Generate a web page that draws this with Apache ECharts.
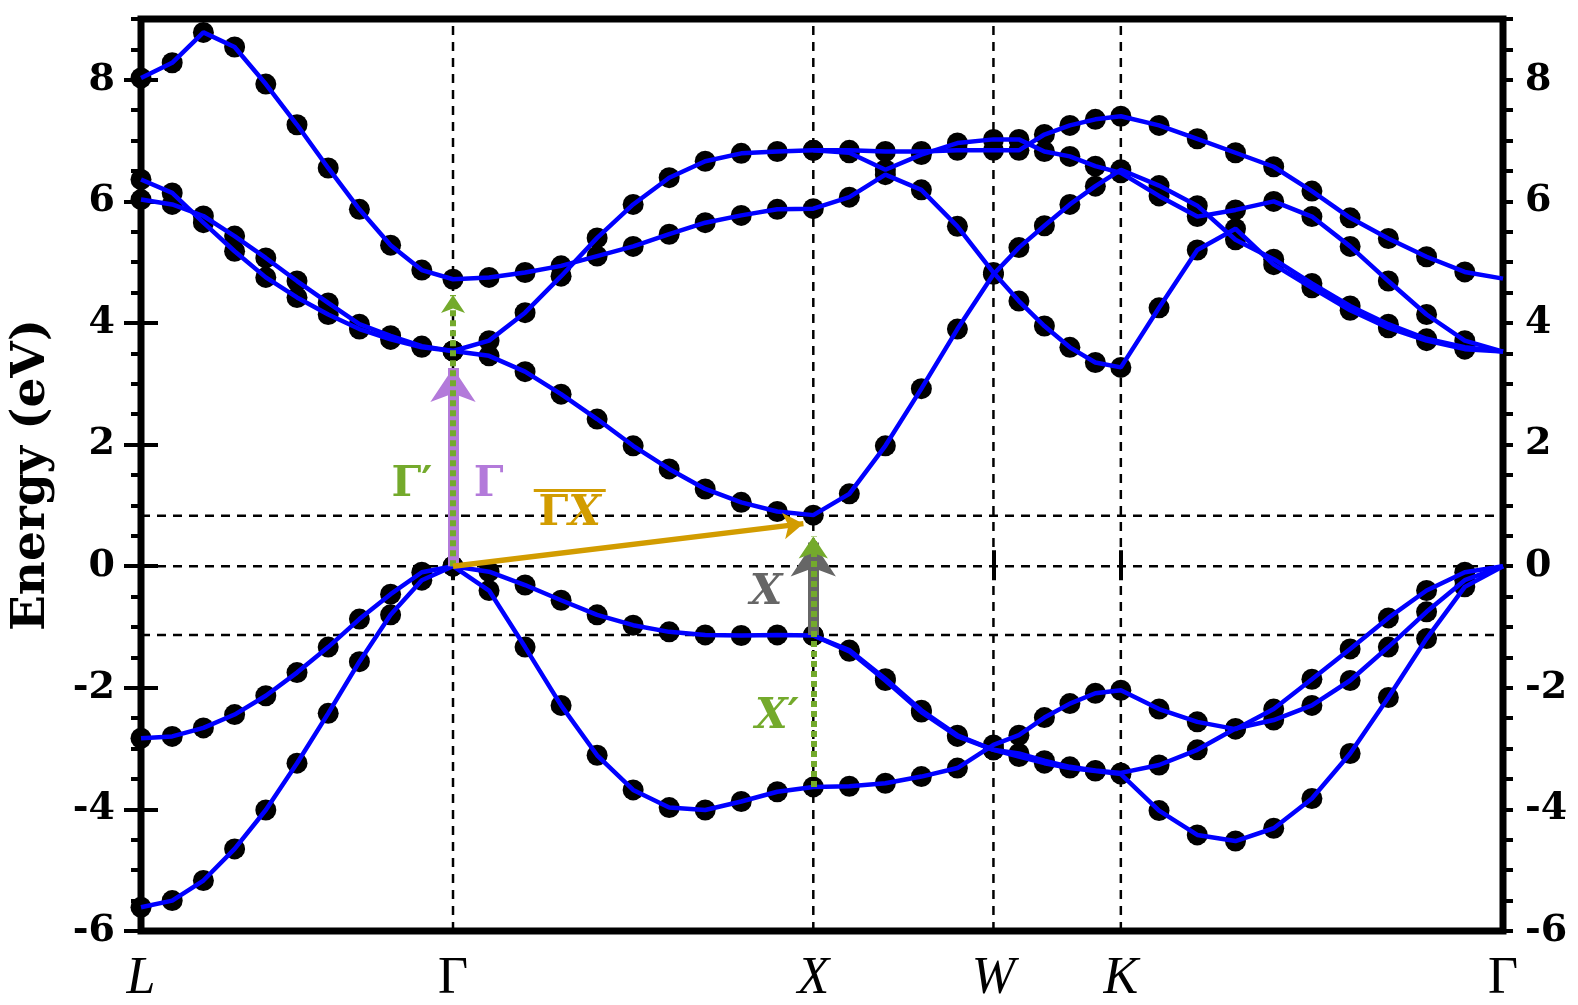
<!DOCTYPE html>
<html>
<head>
<meta charset="utf-8">
<script src="https://cdn.jsdelivr.net/npm/echarts@6/dist/echarts.min.js"></script>
<style>
  html, body { margin: 0; padding: 0; background: #fff; }
  #chart { width: 1578px; height: 1005px; }
</style>
</head>
<body>
<div id="chart"></div>
<script>
// k-path L - Γ - X - W - K - Γ, lengths in units of 2π/a
const kLabels = ['L', 'Γ', 'X', 'W', 'K', 'Γ']
const segLengths = [0.8660, 1.0, 0.5, 0.3536, 1.0607]
const segSteps = [10, 10, 5, 5, 10]

// y axis
const yMin = -6
const yMax = 9
const yMajor = [-6, -4, -2, 0, 2, 4, 6, 8]
// dashed guides: Fermi level, CBM at X, VBM at X
const hLines = [0, 0.83, -1.13]

// band energies (eV), 41 k-points each: L-Γ(11) Γ-X(10) X-W(5) W-K(5) K-Γ(10)
// the final Γ point has no DFT dot, only the interpolated line
const bandA = [
  -5.61, -5.50, -5.17, -4.65, -4.01, -3.24, -2.42, -1.57, -0.80, -0.23, 0.00,
  -0.40, -1.33, -2.29, -3.11, -3.68, -3.97, -4.01, -3.87, -3.71, -3.63,
  -3.62, -3.57, -3.46, -3.32, -2.94,
  -2.78, -2.49, -2.26, -2.09, -2.04,
  -2.35, -2.56, -2.68, -2.35, -1.86, -1.36, -0.85, -0.40, -0.10, 0.00
]
const bandB1 = [
  -2.83, -2.80, -2.66, -2.44, -2.13, -1.75, -1.33, -0.87, -0.46, -0.10, 0.00,
  -0.09, -0.31, -0.56, -0.80, -0.97, -1.08, -1.13, -1.14, -1.13, -1.14,
  -1.38, -1.85, -2.37, -2.78, -3.02,
  -3.08, -3.20, -3.30, -3.36, -3.40,
  -3.27, -3.02, -2.67, -2.53, -2.29, -1.88, -1.33, -0.75, -0.23, 0.00
]
// degenerate with B1 up to X
const bandB2 = [
  null, null, null, null, null, null, null, null, null, null, null,
  null, null, null, null, null, null, null, null, null, -1.14,
  -1.40, -1.88, -2.40, -2.80, -3.02,
  -3.13, -3.24, -3.32, -3.37, -3.42,
  -4.02, -4.42, -4.52, -4.31, -3.82, -3.08, -2.16, -1.19, -0.34, 0.00
]
const bandC = [
  6.36, 6.14, 5.65, 5.18, 4.75, 4.42, 4.14, 3.90, 3.73, 3.60, 3.54,
  3.46, 3.20, 2.83, 2.42, 1.98, 1.60, 1.27, 1.05, 0.90, 0.84,
  1.19, 1.98, 2.92, 3.90, 4.80,
  5.24, 5.60, 5.95, 6.25, 6.52,
  6.26, 5.93, 5.37, 5.05, 4.65, 4.28, 3.98, 3.74, 3.60, 3.53
]
const bandD = [
  6.03, 5.95, 5.76, 5.43, 5.07, 4.69, 4.33, 3.98, 3.79, 3.62, 3.54,
  3.71, 4.17, 4.77, 5.40, 5.95, 6.39, 6.66, 6.79, 6.82, 6.84,
  6.84, 6.82, 6.82, 6.84, 6.84,
  6.84, 7.10, 7.25, 7.35, 7.40,
  7.25, 7.03, 6.80, 6.57, 6.17, 5.73, 5.39, 5.09, 4.84, 4.73
]
const bandE = [
  8.03, 8.28, 8.78, 8.54, 7.93, 7.26, 6.55, 5.87, 5.28, 4.87, 4.72,
  4.75, 4.83, 4.94, 5.10, 5.26, 5.46, 5.65, 5.77, 5.87, 5.88,
  6.07, 6.44, 6.19, 5.59, 4.83,
  4.36, 3.95, 3.60, 3.35, 3.27,
  4.25, 5.20, 5.55, 4.96, 4.58, 4.21, 3.92, 3.71, 3.57, 3.53
]
// degenerate with D up to X
const bandQ = [
  null, null, null, null, null, null, null, null, null, null, null,
  null, null, null, null, null, null, null, null, null, 6.84,
  6.80, 6.52, 6.77, 6.96, 7.02,
  7.02, 6.82, 6.74, 6.58, 6.47,
  6.09, 5.75, 5.86, 6.00, 5.75, 5.26, 4.69, 4.14, 3.71, 3.53
]
const bands = [bandA, bandB1, bandB2, bandC, bandD, bandE, bandQ]

// k positions of the high-symmetry points and of every sample
const kTicks = [0]
segLengths.forEach(len => kTicks.push(+(kTicks[kTicks.length - 1] + len).toFixed(4)))
const kEnd = kTicks[kTicks.length - 1]
const kx = [0]
segLengths.forEach((len, s) => {
  for (let i = 1; i <= segSteps[s]; i++) kx.push(kTicks[s] + len * i / segSteps[s])
})
const kG = kTicks[1]
const kX = kTicks[2]

const W = 1578, H = 1005
const grid = { left: 139, right: 75, top: 19, bottom: 72 }
const pxPerK = (W - grid.left - grid.right) / kEnd
const pxPerE = (H - grid.top - grid.bottom) / (yMax - yMin)

const serif = 'DejaVu Serif'
const green = '#74aa2c'
const purple = '#b37ada'
const gold = '#d29c00'
const grey = '#666666'

// ECharts centres the arrow head on the end point: pull the end back so the tip lands on "tip"
function arrow(from, tip, color, width, head, dash, z) {
  const dx = (tip[0] - from[0]) * pxPerK
  const dy = (tip[1] - from[1]) * pxPerE
  const len = Math.hypot(dx, dy)
  const back = head / 2
  const end = [tip[0] - back * dx / len / pxPerK, tip[1] - back * dy / len / pxPerE]
  return {
    type: 'lines',
    coordinateSystem: 'cartesian2d',
    z,
    silent: true,
    animation: false,
    symbol: ['none', 'arrow'],
    symbolSize: [0, head],
    lineStyle: { color, width, type: dash || 'solid', opacity: 1, curveness: 0, cap: 'butt' },
    data: [{ coords: [from, end] }]
  }
}

const dashStyle = { color: '#000', width: 2.5, type: [9, 7] }
const guideSeries = kTicks.slice(1, -1).map(k => [[k, yMin], [k, yMax]])
  .concat(hLines.map(e => [[0, e], [kEnd, e]]))
  .map(d => ({
    type: 'line', data: d, symbol: 'none', silent: true, animation: false,
    lineStyle: dashStyle, z: 1
  }))

const lineSeries = bands.map(b => ({
  type: 'line',
  data: b.map((v, i) => [kx[i], v]).filter(p => p[1] !== null),
  symbol: 'none',
  showSymbol: false,
  silent: true,
  animation: false,
  lineStyle: { color: '#0000ff', width: 4.5 },
  z: 6
}))

const dotSeries = {
  type: 'scatter',
  data: bands.flatMap(b => b.slice(0, -1).map((v, i) => [kx[i], v]).filter(p => p[1] !== null)),
  symbolSize: 21,
  itemStyle: { color: '#000', opacity: 1 },
  silent: true,
  animation: false,
  z: 4
}

const noteFont = { fontFamily: serif, fontWeight: 'bold', fontSize: 42 }
const noteRich = {
  gp: Object.assign({ color: green }, noteFont),
  pu: Object.assign({ color: purple }, noteFont),
  go: Object.assign({ color: gold }, noteFont),
  goi: Object.assign({ color: gold, fontStyle: 'italic' }, noteFont),
  bar: { width: 72, height: 3, lineHeight: 6, backgroundColor: gold },
  gr: Object.assign({ color: grey, fontStyle: 'italic' }, noteFont),
  gi: Object.assign({ color: green, fontStyle: 'italic' }, noteFont)
}
const notes = [
  { k: 0.752, e: 1.34, text: '{gp|Γ′}' },
  { k: 0.965, e: 1.34, text: '{pu|Γ}' },
  { k: 1.19, e: 0.90, text: '{bar| }\n{go|Γ}{goi|X}' },
  { k: 1.735, e: -0.45, text: '{gr|X}' },
  { k: 1.765, e: -2.48, text: '{gi|X′}' }
]
const noteSeries = {
  type: 'scatter',
  symbol: 'circle',
  symbolSize: 0.01,
  itemStyle: { color: '#fff', opacity: 1 },
  silent: true,
  animation: false,
  z: 12,
  data: notes.map(n => ({
    value: [n.k, n.e],
    label: { show: true, position: 'inside', formatter: n.text, rich: noteRich }
  }))
}

const arrowSeries = [
  arrow([kG, 0], [kG, bandC[10]], purple, 11, 34, null, 8),
  arrow([kG, 0], [kG, 4.61], green, 6, 18, [6, 4], 9),
  arrow([kG, 0], [kX, 0.72], gold, 5.5, 20, null, 9),
  arrow([kX, -1.13], [kX, 0.67], grey, 11, 34, null, 8),
  arrow([kX, bandA[20]], [kX, 0.67], green, 6, 22, [6, 4], 9)
]

const tickLabel = { fontFamily: serif, fontWeight: 'bold', fontSize: 38, color: '#000' }
function kName(v) {
  let best = 0
  kTicks.forEach((k, i) => { if (Math.abs(k - v) < Math.abs(kTicks[best] - v)) best = i })
  return kLabels[best]
}

const chart = echarts.init(document.getElementById('chart'), null, { renderer: 'canvas' })
chart.setOption({
  backgroundColor: '#fff',
  animation: false,
  grid: Object.assign({ show: true, borderColor: '#000', borderWidth: 7, backgroundColor: 'transparent' }, grid),
  xAxis: [
    {
      type: 'value', min: 0, max: kEnd, position: 'bottom',
      axisLine: { show: false },
      axisTick: { customValues: kTicks, length: 14, lineStyle: { color: '#000', width: 4 } },
      axisLabel: {
        customValues: kTicks, margin: 22,
        formatter: v => kName(v) === 'Γ' ? '{up|Γ}' : '{it|' + kName(v) + '}',
        rich: {
          up: { fontFamily: 'Liberation Serif', fontSize: 52, color: '#000' },
          it: { fontFamily: 'Liberation Serif', fontSize: 52, fontStyle: 'italic', color: '#000' }
        }
      },
      splitLine: { show: false }
    },
    {
      type: 'value', min: 0, max: kEnd, position: 'bottom',
      axisLine: { show: false },
      axisTick: { customValues: kTicks, inside: true, length: 12, lineStyle: { color: '#000', width: 4 } },
      axisLabel: { show: false },
      splitLine: { show: false }
    },
    {
      type: 'value', min: 0, max: kEnd, position: 'top',
      axisLine: { show: false },
      axisTick: { customValues: kTicks, length: 16, lineStyle: { color: '#000', width: 4 } },
      axisLabel: { show: false },
      splitLine: { show: false }
    }
  ],
  yAxis: [
    {
      type: 'value', min: yMin, max: yMax, interval: 2, position: 'left',
      axisLine: { show: false },
      axisTick: { customValues: yMajor, length: 17, lineStyle: { color: '#000', width: 4 } },
      axisLabel: Object.assign({ customValues: yMajor, margin: 26 }, tickLabel),
      splitLine: { show: false },
      name: 'Energy (eV)',
      nameLocation: 'middle',
      nameGap: 86,
      nameTextStyle: { fontFamily: serif, fontWeight: 'bold', fontSize: 47, color: '#000' }
    },
    {
      type: 'value', min: yMin, max: yMax, interval: 0.5, position: 'left',
      axisLine: { show: false },
      axisTick: { length: 10, lineStyle: { color: '#000', width: 4 } },
      axisLabel: { show: false },
      splitLine: { show: false }
    },
    {
      type: 'value', min: yMin, max: yMax, interval: 2, position: 'right',
      axisLine: { show: false },
      axisTick: { customValues: yMajor, length: 17, lineStyle: { color: '#000', width: 4 } },
      axisLabel: Object.assign({ customValues: yMajor, margin: 22 }, tickLabel),
      splitLine: { show: false }
    },
    {
      type: 'value', min: yMin, max: yMax, interval: 0.5, position: 'right',
      axisLine: { show: false },
      axisTick: { length: 10, lineStyle: { color: '#000', width: 4 } },
      axisLabel: { show: false },
      splitLine: { show: false }
    }
  ],
  series: [...guideSeries, dotSeries, ...lineSeries, ...arrowSeries, noteSeries]
})
</script>
</body>
</html>
